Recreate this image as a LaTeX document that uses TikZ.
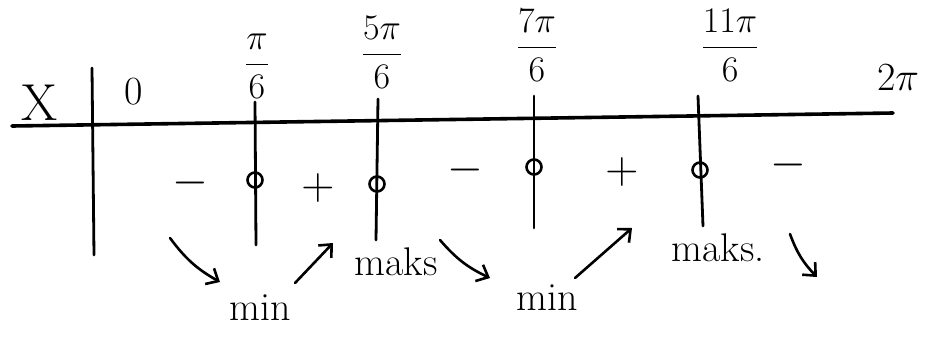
\documentclass[tikz,border=0pt]{standalone}
\usepackage{fix-cm}
\usepackage{amsmath}
\usetikzlibrary{arrows.meta}
\begin{document}
\begin{tikzpicture}[x=1pt,y=-1pt,
  ink/.style={line width=2.8pt,line cap=round,black},
  axis/.style={line width=3.6pt,line cap=round,black},
  lbl/.style={font=\fontsize{40}{40}\selectfont,inner sep=0pt},
  frac/.style={font=\fontsize{36}{36}\selectfont,inner sep=0pt},
  sgn/.style={font=\fontsize{46}{46}\selectfont,inner sep=0pt},
  mark circ/.style={circle,draw,line width=2.6pt,minimum size=15pt,inner sep=0pt},
  arr/.style={line width=2.6pt,line cap=round,-{Straight Barb[length=10pt,width=18pt,line width=2.6pt]}}]
\useasboundingbox (0,0) rectangle (935,338);
% axis
\coordinate (axL) at (12,126);
\coordinate (axR) at (893,113);
\draw[axis] (axL) -- (axR);
\coordinate (vT) at (92,68);
\coordinate (vB) at (94,255);
\draw[ink] (vT) -- (vB);
\node[lbl,font=\fontsize{52}{52}\selectfont] (x) at (40,103) {X};
\node[lbl,font=\fontsize{40}{40}\selectfont] (zero) at (134,92) {0};
\node[lbl] (twopi) at (898,78) {$2\pi$};
% fraction labels
\node[frac] (f1) at (257,66) {$\dfrac{\pi}{6}$};
\node[frac] (f2) at (382,52) {$\dfrac{5\pi}{6}$};
\node[frac] (f3) at (537,45) {$\dfrac{7\pi}{6}$};
\node[frac] (f4) at (730,45) {$\dfrac{11\pi}{6}$};
% tick lines and circles
\coordinate (t1a) at (255,102); \coordinate (t1b) at (256,245);
\coordinate (t2a) at (378,99);  \coordinate (t2b) at (376,240);
\coordinate (t3a) at (534,96);  \coordinate (t3b) at (534,228);
\coordinate (t4a) at (698,96);  \coordinate (t4b) at (703,226);
\draw[ink] (t1a) -- (t1b);
\draw[ink] (t2a) -- (t2b);
\draw[ink] (t3a) -- (t3b);
\draw[ink] (t4a) -- (t4b);
\node[mark circ] (c1) at (255,180) {};
\node[mark circ] (c2) at (377,184) {};
\node[mark circ] (c3) at (534,167) {};
\node[mark circ] (c4) at (700,170) {};
% signs
\node[sgn] (s1) at (190,183) {$-$};
\node[sgn] (s2) at (318,188) {$+$};
\node[sgn] (s3) at (465,170) {$-$};
\node[sgn] (s4) at (622,172) {$+$};
\node[sgn] (s5) at (788,165) {$-$};
% words
\node[lbl] (min1) at (260,308) {min};
\node[lbl] (maks1) at (396,262) {maks};
\node[lbl] (min2) at (547,298) {min};
\node[lbl] (maks2) at (718,248) {maks.};
% arrows
\coordinate (a1s) at (170,238); \coordinate (a1e) at (220,282);
\coordinate (a2s) at (295,283); \coordinate (a2e) at (333,243);
\coordinate (a3s) at (440,240); \coordinate (a3e) at (490,278);
\coordinate (a4s) at (575,278); \coordinate (a4e) at (632,228);
\coordinate (a5s) at (790,234); \coordinate (a5e) at (817,277);
\draw[arr] (a1s) to[bend right=12] (a1e);
\draw[arr] (a2s) -- (a2e);
\draw[arr] (a3s) to[bend right=12] (a3e);
\draw[arr] (a4s) -- (a4e);
\draw[arr] (a5s) to[bend right=12] (a5e);
\end{tikzpicture}
\end{document}
